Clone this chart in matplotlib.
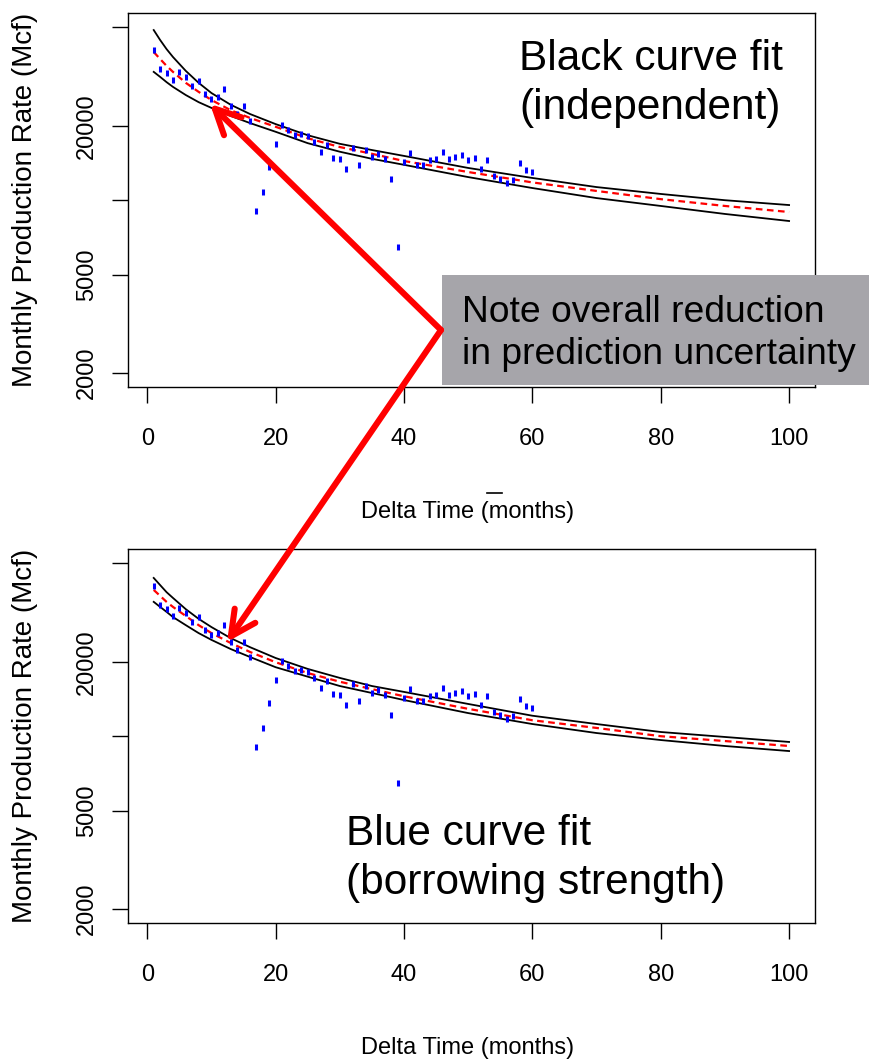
import matplotlib
matplotlib.use('Agg')
import matplotlib.pyplot as plt
from matplotlib.patches import Rectangle, FancyArrowPatch
from matplotlib.lines import Line2D

plt.rcParams['font.family'] = ['Liberation Sans', 'DejaVu Sans']

# observed monthly production (Mcf) for months 1..60
months = list(range(1, 61))
production = [40450, 33990, 32750, 30520, 32960, 31560, 28860, 30410, 26940, 25560,
              26040, 28220, 24090, 22300, 24020, 20960, 9050, 10820, 13580, 16870,
              20190, 19210, 18340, 18510, 18170, 17190, 15660, 16710, 14850, 14630,
              13370, 16300, 13840, 15950, 14990, 15370, 14670, 12150, 6470, 14310,
              15470, 13880, 13840, 14500, 14630, 15660, 14740, 14990, 15230, 14600,
              14780, 13410, 14500, 12490, 12210, 11740, 12040, 14100, 13250, 13000]

# fitted curves at these months
fit_months = [1, 2, 3, 4, 6, 8, 10, 13, 16, 20, 25, 30, 35, 40, 50, 60, 70, 80, 90, 100]

# top panel: independent fit
indep_upper = [48700, 44400, 40800, 37900, 33300, 29800, 27100, 24300, 22300, 20300,
               18300, 16900, 15950, 15100, 13500, 12300, 11300, 10600, 10000, 9560]
indep_fit = [39700, 37200, 34900, 33000, 29800, 27400, 25400, 23100, 21500, 19800,
             17800, 16400, 15400, 14400, 13000, 11800, 10900, 10100, 9480, 8960]
indep_lower = [33000, 31500, 30000, 28700, 26600, 24900, 23600, 21900, 20500, 18900,
               17000, 15700, 14700, 13900, 12400, 11200, 10200, 9480, 8800, 8240]

# bottom panel: borrowing strength
pooled_upper = [43600, 40800, 38200, 36200, 32600, 29800, 27600, 24900, 22900, 20700,
                18700, 17200, 15950, 15100, 13500, 12100, 11200, 10400, 9930, 9480]
pooled_fit = [39000, 36900, 34900, 33300, 30600, 28100, 26100, 23800, 21900, 19900,
              18000, 16600, 15500, 14500, 12900, 11600, 10800, 10000, 9560, 9130]
pooled_lower = [34900, 33300, 31800, 30300, 28100, 26100, 24500, 22500, 20900, 19000,
                17400, 15950, 14950, 14000, 12400, 11200, 10300, 9650, 9130, 8710]

xticks = [0, 20, 40, 60, 80, 100]
yticks = [2000, 5000, 10000, 20000, 50000]
ytick_labels = ['2000', '5000', '', '20000', '']

W, H = 869, 1063
fig = plt.figure(figsize=(W / 100, H / 100), dpi=100)


def px(x, y):
    # image pixel -> figure fraction
    return x / W, 1 - y / H


def panel(top, upper, fit, lower):
    left, right, height = 128.3, 814.5, 374.0
    ax = fig.add_axes([left / W, 1 - (top + height) / H, (right - left) / W, height / H])
    ax.set_yscale('log')
    ax.plot(fit_months, upper, color='black', lw=1.3)
    ax.plot(fit_months, lower, color='black', lw=1.3)
    ax.plot(fit_months, fit, color='red', lw=1.6, dashes=(3.0, 2.0))
    ax.plot(months, production, ls='none', marker='|', ms=4.5, mew=2.2, color='blue')
    ax.set_xlim(-2.96, 103.96)
    ax.set_ylim(1764, 57230)
    ax.set_xticks(xticks)
    ax.set_yticks(yticks)
    ax.set_yticklabels(ytick_labels, rotation=90, va='center')
    ax.minorticks_off()
    ax.tick_params(length=11.5, width=1, labelsize=17, color='black')
    ax.tick_params(axis='x', pad=18.5)
    ax.tick_params(axis='y', pad=10.5)
    for s in ax.spines.values():
        s.set_linewidth(1)
    ax.set_xlabel('Delta Time (months)', fontsize=17, va='top')
    ax.xaxis.set_label_coords(0.495, -0.305)
    ax.set_ylabel('Monthly Production Rate (Mcf)', fontsize=20)
    ax.yaxis.set_label_coords(-0.131, 0.5)
    return ax


ax1 = panel(12.7, indep_upper, indep_fit, indep_lower)
ax2 = panel(548.7, pooled_upper, pooled_fit, pooled_lower)

fig.text(*px(519, 39), 'Black curve fit\n(independent)', fontsize=30.5,
         va='top', ha='left', linespacing=1.3)
fig.text(*px(346, 814), 'Blue curve fit\n(borrowing strength)', fontsize=30.5,
         va='top', ha='left', linespacing=1.3)

# strip that clips the bottom of the upper tick labels
fig.add_artist(Rectangle(px(0, 470), 1, 22 / H, transform=fig.transFigure,
                         facecolor='white', edgecolor='none', zorder=5))
fig.add_artist(Line2D([487 / W, 502 / W], [1 - 493 / H] * 2, transform=fig.transFigure,
                      color='black', lw=1.2, zorder=6))

# grey note box
fig.add_artist(Rectangle(px(441.7, 385), (W - 441.7) / W, 110 / H,
                         transform=fig.transFigure, facecolor='#a6a5aa',
                         edgecolor='none', zorder=7))
fig.text(*px(461.7, 295), 'Note overall reduction\nin prediction uncertainty',
         fontsize=26.8, va='top', ha='left', linespacing=1.25, zorder=8)

for tip in [(210, 104), (227, 642)]:
    arr = FancyArrowPatch(px(441, 330), px(*tip), transform=fig.transFigure,
                          arrowstyle='->,head_length=0.9,head_width=0.45',
                          mutation_scale=20, color='red', lw=4.4,
                          shrinkA=0, shrinkB=0, zorder=9)
    fig.add_artist(arr)

fig.savefig('out.png', dpi=100)
